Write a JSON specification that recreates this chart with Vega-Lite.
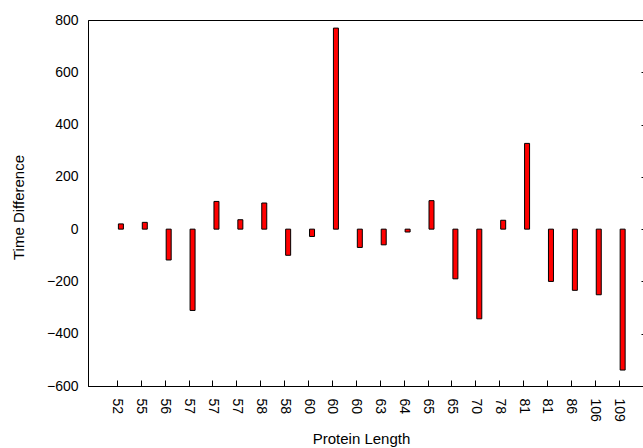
{
  "$schema": "https://vega.github.io/schema/vega-lite/v6.json",
  "width": 555,
  "height": 366,
  "autosize": {"type": "none"},
  "padding": {"left": 88, "top": 20, "right": 0, "bottom": 62},
  "background": "white",
  "config": {
    "view": {"stroke": "black", "strokeWidth": 1},
    "axis": {
      "grid": false,
      "labelFont": "Liberation Sans",
      "titleFont": "Liberation Sans",
      "labelColor": "black",
      "titleColor": "black",
      "domainColor": "black",
      "tickColor": "black",
      "labelFontSize": 14,
      "titleFontSize": 15,
      "titleFontWeight": "normal",
      "domainWidth": 1,
      "tickWidth": 1
    }
  },
  "data": {
    "values": [
      {"i": 1, "length": "52", "diff": 20},
      {"i": 2, "length": "55", "diff": 26},
      {"i": 3, "length": "56", "diff": -118},
      {"i": 4, "length": "57", "diff": -311},
      {"i": 5, "length": "57", "diff": 106},
      {"i": 6, "length": "57", "diff": 36},
      {"i": 7, "length": "58", "diff": 100},
      {"i": 8, "length": "58", "diff": -100},
      {"i": 9, "length": "60", "diff": -28},
      {"i": 10, "length": "60", "diff": 769},
      {"i": 11, "length": "60", "diff": -70},
      {"i": 12, "length": "63", "diff": -60},
      {"i": 13, "length": "64", "diff": -11},
      {"i": 14, "length": "65", "diff": 109},
      {"i": 15, "length": "65", "diff": -190},
      {"i": 16, "length": "70", "diff": -343},
      {"i": 17, "length": "78", "diff": 34},
      {"i": 18, "length": "81", "diff": 328},
      {"i": 19, "length": "81", "diff": -200},
      {"i": 20, "length": "86", "diff": -234},
      {"i": 21, "length": "106", "diff": -251},
      {"i": 22, "length": "109", "diff": -539}
    ]
  },
  "layer": [
    {
      "mark": {"type": "bar", "size": 5, "fill": "#ff0000", "stroke": "black", "strokeWidth": 1, "xOffset": 4},
      "encoding": {
        "x": {
          "field": "i", "type": "quantitative",
          "scale": {"domain": [0, 22.81], "nice": false, "zero": false},
          "axis": {
            "title": "Protein Length",
            "values": [1,2,3,4,5,6,7,8,9,10,11,12,13,14,15,16,17,18,19,20,21,22],
            "labelExpr": "['52','55','56','57','57','57','58','58','60','60','60','63','64','65','65','70','78','81','81','86','106','109'][datum.value-1]",
            "labelAngle": 90,
            "labelAlign": "left",
            "labelBaseline": "middle",
            "labelPadding": 12,
            "labelFlush": false,
            "labelOverlap": false,
            "ticks": false,
            "titleX": 273,
            "titleY": 57,
            "titleBaseline": "alphabetic",
            "titleAnchor": "middle"
          }
        },
        "y": {
          "field": "diff", "type": "quantitative",
          "scale": {"domain": [-600, 800], "nice": false},
          "axis": {
            "title": "Time Difference",
            "values": [-600, -400, -200, 0, 200, 400, 600, 800],
            "labelPadding": 10,
            "ticks": false,
            "titleX": -70,
            "titleY": 187,
            "titleAngle": -90,
            "titleBaseline": "middle",
            "titleAnchor": "middle"
          }
        }
      }
    },
    {
      "mark": {"type": "point", "opacity": 0},
      "encoding": {
        "x": {
          "field": "i", "type": "quantitative",
          "axis": {
            "orient": "bottom", "offset": -6, "tickSize": 6,
            "title": null, "labels": false, "domain": false,
            "values": [1,2,3,4,5,6,7,8,9,10,11,12,13,14,15,16,17,18,19,20,21,22]
          }
        },
        "y": {
          "field": "diff", "type": "quantitative",
          "axis": {
            "orient": "right", "offset": -2, "tickSize": 2,
            "title": null, "labels": false, "domain": false,
            "values": [-600, -400, -200, 0, 200, 400, 600, 800]
          }
        }
      }
    }
  ],
  "resolve": {"axis": {"x": "independent", "y": "independent"}}
}
